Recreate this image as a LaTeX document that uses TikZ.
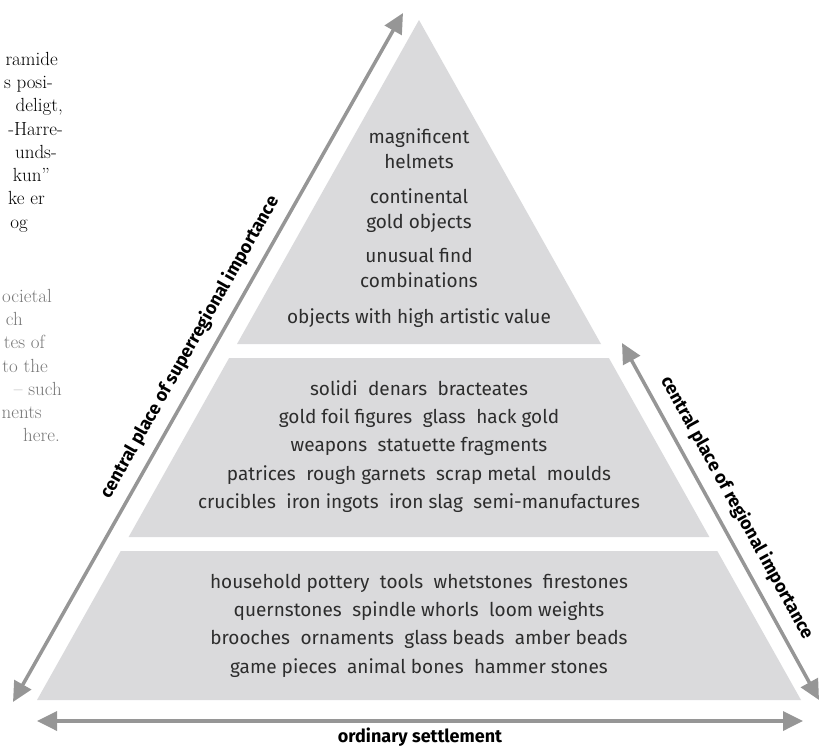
\documentclass[tikz,border=0pt]{standalone}
\usepackage{fontspec}
\newfontfamily\pyrfont{Fira Sans}
\usetikzlibrary{arrows.meta}
\definecolor{bandgray}{RGB}{218,218,220}
\definecolor{arrowgray}{RGB}{150,150,150}
\definecolor{textgray}{RGB}{45,45,45}
\definecolor{pagegray}{RGB}{120,120,120}
\newcommand{\twosp}{\hspace{0.55em}}

\begin{document}
\begin{tikzpicture}[
		x=1pt,y=-1pt,
		band/.style={fill=bandgray,draw=none},
		bandtext/.style={align=center,text=textgray,inner sep=0pt,
			font=\pyrfont\fontsize{19}{28.3}\selectfont},
		scalearrow/.style={draw=arrowgray,line width=3.5pt,
			{Triangle[length=20pt,width=19pt]}-{Triangle[length=20pt,width=19pt]}},
		scalelabel/.style={text=black,inner sep=0pt,
			font=\pyrfont\bfseries\fontsize{18}{21}\selectfont},
		pageline/.style={anchor=base east,inner sep=0pt,
			font=\fontsize{19}{23}\selectfont}
		]
		\useasboundingbox (0,0) rectangle (822,747);
		% page text that shows at the left edge
		\node[pageline] (p1) at (58,65) {ramide};
		\node[pageline] (p2) at (53,88.3) {s posi-};
		\node[pageline] (p3) at (63,111.6) {deligt,};
		\node[pageline] (p4) at (63,135) {-Harre-};
		\node[pageline] (p5) at (57,158.2) {unds-};
		\node[pageline] (p6) at (50,181.5) {kun''};
		\node[pageline] (p7) at (45,204.8) {ke er};
		\node[pageline] (p8) at (28,228) {og};
		\node[pageline,text=pagegray] (g1) at (52,302) {ocietal};
		\node[pageline,text=pagegray] (g2) at (23,325.3) {ch};
		\node[pageline,text=pagegray] (g3) at (45,348.6) {tes of};
		\node[pageline,text=pagegray] (g4) at (48,372) {to the};
		\node[pageline,text=pagegray] (g5) at (62,395.2) {-- such};
		\node[pageline,text=pagegray] (g6) at (42,418.5) {nents};
		\node[pageline,text=pagegray] (g7) at (60,441.8) {here.};
		% the three bands
		\coordinate (apex) at (419,20);
		\fill[band] (apex) -- (601,344) -- (237,344) -- cycle;
		\fill[band] (229.1,358) -- (608.9,358) -- (709.4,537) -- (128.6,537) -- cycle;
		\fill[band] (120.7,551) -- (717.3,551) -- (801,700) -- (37,700) -- cycle;
		\node[bandtext,font=\pyrfont\fontsize{19}{25}\selectfont] (top) at (419,228)
		{magnificent\\helmets\\[10pt]continental\\gold objects\\[9pt]unusual find\\combinations\\[11pt]objects with high artistic value};
		\node[bandtext] (mid) at (419,446.5)
		{solidi\twosp denars\twosp bracteates\\
			gold foil figures\twosp glass\twosp hack gold\\
			weapons\twosp statuette fragments\\
			patrices\twosp rough garnets\twosp scrap metal\twosp moulds\\
			crucibles\twosp iron ingots\twosp iron slag\twosp semi-manufactures};
		\node[bandtext] (low) at (419,625.5)
		{household pottery\twosp tools\twosp whetstones\twosp firestones\\
			quernstones\twosp spindle whorls\twosp loom weights\\
			brooches\twosp ornaments\twosp glass beads\twosp amber beads\\
			game pieces\twosp animal bones\twosp hammer stones};
		% the scales
		\coordinate (sup-lo) at (13,702);
		\coordinate (sup-hi) at (403,13);
		\coordinate (reg-hi) at (622,343);
		\coordinate (reg-lo) at (819,700);
		\coordinate (ord-lo) at (37,721);
		\coordinate (ord-hi) at (803,721);
		\draw[scalearrow] (sup-lo) -- node[scalelabel,sloped,above=10pt,pos=0.5] (suplabel)
		{central place of superregional importance} (sup-hi);
		\draw[scalearrow] (reg-hi) -- node[scalelabel,sloped,above=10pt,pos=0.49] (reglabel)
		{central place of regional importance} (reg-lo);
		\draw[scalearrow] (ord-lo) -- node[scalelabel,below=5pt] (ordlabel)
		{ordinary settlement} (ord-hi);
	\end{tikzpicture}
\end{document}
